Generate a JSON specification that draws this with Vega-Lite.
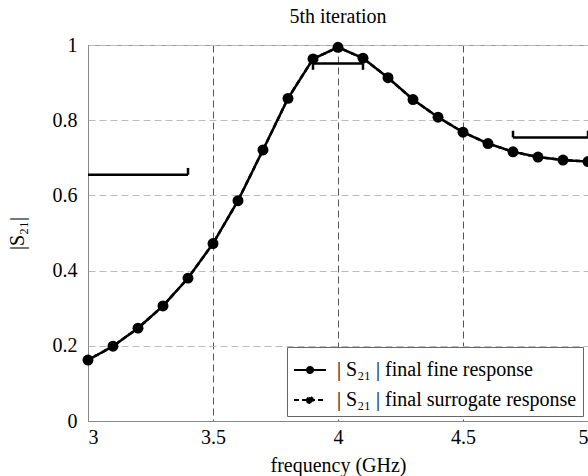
{
  "$schema": "https://vega.github.io/schema/vega-lite/v6.json",
  "width": 500,
  "height": 376,
  "autosize": {"type": "none"},
  "padding": {"left": 88, "top": 45, "right": 0, "bottom": 55},
  "background": "white",
  "title": {"text": "5th iteration", "font": "Liberation Serif", "fontSize": 20, "fontWeight": "normal", "color": "black", "offset": 8},
  "config": {
    "view": {"stroke": "#999", "strokeWidth": 1},
    "axis": {"labelFont": "Liberation Serif", "titleFont": "Liberation Serif", "labelFontSize": 20, "titleFontSize": 20, "titleFontWeight": "normal", "labelColor": "black", "titleColor": "black", "ticks": false, "domainColor": "#888"}
  },
  "datasets": {
    "resp": [
      {"f": 3.0, "s": 0.162, "series": "| S₂₁ | final fine response"},
      {"f": 3.1, "s": 0.199, "series": "| S₂₁ | final fine response"},
      {"f": 3.2, "s": 0.247, "series": "| S₂₁ | final fine response"},
      {"f": 3.3, "s": 0.306, "series": "| S₂₁ | final fine response"},
      {"f": 3.4, "s": 0.38, "series": "| S₂₁ | final fine response"},
      {"f": 3.5, "s": 0.472, "series": "| S₂₁ | final fine response"},
      {"f": 3.6, "s": 0.586, "series": "| S₂₁ | final fine response"},
      {"f": 3.7, "s": 0.721, "series": "| S₂₁ | final fine response"},
      {"f": 3.8, "s": 0.858, "series": "| S₂₁ | final fine response"},
      {"f": 3.9, "s": 0.963, "series": "| S₂₁ | final fine response"},
      {"f": 4.0, "s": 0.994, "series": "| S₂₁ | final fine response"},
      {"f": 4.1, "s": 0.965, "series": "| S₂₁ | final fine response"},
      {"f": 4.2, "s": 0.913, "series": "| S₂₁ | final fine response"},
      {"f": 4.3, "s": 0.855, "series": "| S₂₁ | final fine response"},
      {"f": 4.4, "s": 0.808, "series": "| S₂₁ | final fine response"},
      {"f": 4.5, "s": 0.768, "series": "| S₂₁ | final fine response"},
      {"f": 4.6, "s": 0.738, "series": "| S₂₁ | final fine response"},
      {"f": 4.7, "s": 0.716, "series": "| S₂₁ | final fine response"},
      {"f": 4.8, "s": 0.702, "series": "| S₂₁ | final fine response"},
      {"f": 4.9, "s": 0.694, "series": "| S₂₁ | final fine response"},
      {"f": 5.0, "s": 0.69, "series": "| S₂₁ | final fine response"},
      {"f": 3.0, "s": 0.162, "series": "| S₂₁ | final surrogate response"},
      {"f": 3.1, "s": 0.199, "series": "| S₂₁ | final surrogate response"},
      {"f": 3.2, "s": 0.247, "series": "| S₂₁ | final surrogate response"},
      {"f": 3.3, "s": 0.306, "series": "| S₂₁ | final surrogate response"},
      {"f": 3.4, "s": 0.38, "series": "| S₂₁ | final surrogate response"},
      {"f": 3.5, "s": 0.472, "series": "| S₂₁ | final surrogate response"},
      {"f": 3.6, "s": 0.586, "series": "| S₂₁ | final surrogate response"},
      {"f": 3.7, "s": 0.721, "series": "| S₂₁ | final surrogate response"},
      {"f": 3.8, "s": 0.858, "series": "| S₂₁ | final surrogate response"},
      {"f": 3.9, "s": 0.963, "series": "| S₂₁ | final surrogate response"},
      {"f": 4.0, "s": 0.994, "series": "| S₂₁ | final surrogate response"},
      {"f": 4.1, "s": 0.965, "series": "| S₂₁ | final surrogate response"},
      {"f": 4.2, "s": 0.913, "series": "| S₂₁ | final surrogate response"},
      {"f": 4.3, "s": 0.855, "series": "| S₂₁ | final surrogate response"},
      {"f": 4.4, "s": 0.808, "series": "| S₂₁ | final surrogate response"},
      {"f": 4.5, "s": 0.768, "series": "| S₂₁ | final surrogate response"},
      {"f": 4.6, "s": 0.738, "series": "| S₂₁ | final surrogate response"},
      {"f": 4.7, "s": 0.716, "series": "| S₂₁ | final surrogate response"},
      {"f": 4.8, "s": 0.702, "series": "| S₂₁ | final surrogate response"},
      {"f": 4.9, "s": 0.694, "series": "| S₂₁ | final surrogate response"},
      {"f": 5.0, "s": 0.69, "series": "| S₂₁ | final surrogate response"}
    ],
    "spec": [
      {"x": 3.0, "x2": 3.4, "y": 0.655, "y2": 0.655},
      {"x": 3.4, "x2": 3.4, "y": 0.655, "y2": 0.673},
      {"x": 3.9, "x2": 4.1, "y": 0.951, "y2": 0.951},
      {"x": 3.9, "x2": 3.9, "y": 0.951, "y2": 0.934},
      {"x": 4.1, "x2": 4.1, "y": 0.951, "y2": 0.934},
      {"x": 4.7, "x2": 5.0, "y": 0.754, "y2": 0.754},
      {"x": 4.7, "x2": 4.7, "y": 0.754, "y2": 0.772},
      {"x": 5.0, "x2": 5.0, "y": 0.754, "y2": 0.772}
    ]
  },
  "layer": [
    {
      "data": {"name": "resp"},
      "mark": {"type": "line", "color": "black", "strokeWidth": 2.5},
      "encoding": {
        "x": {"field": "f", "type": "quantitative", "scale": {"domain": [3, 5], "nice": false},
          "axis": {"values": [3, 3.5, 4, 4.5, 5], "format": "~g", "title": "frequency (GHz)", "labelPadding": 6, "titlePadding": 8,
            "grid": true, "gridColor": "#555", "gridDash": [7, 4], "gridWidth": 1}},
        "y": {"field": "s", "type": "quantitative", "scale": {"domain": [0, 1], "nice": false},
          "axis": {"values": [0, 0.2, 0.4, 0.6, 0.8, 1], "format": "~g", "title": "|S₂₁|", "labelPadding": 11, "titlePadding": 25,
            "grid": true, "gridColor": "#bbb", "gridDash": [7, 4], "gridWidth": 1}},
        "strokeDash": {"field": "series", "type": "nominal",
          "scale": {"domain": ["| S₂₁ | final fine response", "| S₂₁ | final surrogate response"], "range": [[1, 0], [5, 3]]},
          "legend": {"title": null, "orient": "bottom-right", "offset": 5, "fillColor": "white", "strokeColor": "#666", "padding": 6,
            "labelFont": "Liberation Serif", "labelFontSize": 20, "labelColor": "black", "labelOffset": 10, "labelLimit": 0, "rowPadding": 3,
            "symbolType": "M-1,0H1M-0.19,0A0.19,0.19,0,1,0,0.19,0A0.19,0.19,0,1,0,-0.19,0Z",
            "symbolSize": 1024, "symbolStrokeColor": "black", "symbolFillColor": "black", "symbolStrokeWidth": 2}}
      }
    },
    {
      "data": {"name": "resp"},
      "transform": [{"filter": "datum.series == '| S₂₁ | final fine response'"}],
      "mark": {"type": "point", "filled": true, "color": "black", "size": 120, "opacity": 1},
      "encoding": {
        "x": {"field": "f", "type": "quantitative"},
        "y": {"field": "s", "type": "quantitative"}
      }
    },
    {
      "data": {"name": "spec"},
      "mark": {"type": "rule", "color": "black", "strokeWidth": 2.5},
      "encoding": {
        "x": {"field": "x", "type": "quantitative"},
        "x2": {"field": "x2"},
        "y": {"field": "y", "type": "quantitative"},
        "y2": {"field": "y2"}
      }
    }
  ]
}
